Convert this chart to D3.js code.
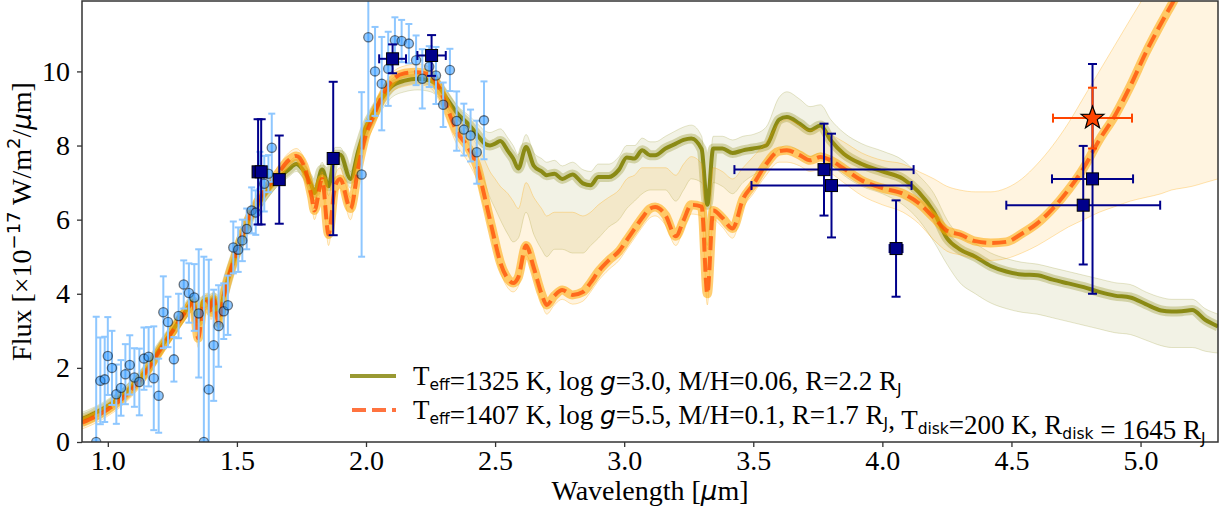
<!DOCTYPE html>
<html><head><meta charset="utf-8">
<script src="https://cdn.jsdelivr.net/npm/d3@7"></script>
<style>body{margin:0;background:#fff} svg{display:block}</style>
</head><body>
<svg id="c" width="1225" height="508"></svg>
<script>
// ---------------- DATA ----------------
const wavelength = [0.90,0.95,1.00,1.05,1.10,1.15,1.20,1.25,1.30,1.33,1.35,1.37,1.39,1.40,1.41,1.43,1.45,1.50,1.55,1.60,1.65,1.70,1.73,1.76,1.79,1.80,1.83,1.855,1.88,1.90,1.94,1.97,2.00,2.03,2.06,2.10,2.15,2.20,2.25,2.28,2.31,2.35,2.40,2.43,2.46,2.48,2.50,2.52,2.55,2.57,2.59,2.62,2.65,2.68,2.70,2.73,2.76,2.80,2.84,2.87,2.90,2.94,2.98,3.01,3.04,3.07,3.10,3.12,3.16,3.20,3.23,3.26,3.30,3.322,3.345,3.38,3.42,3.46,3.50,3.55,3.60,3.63,3.68,3.72,3.76,3.80,3.85,3.92,4.00,4.08,4.14,4.20,4.25,4.30,4.36,4.42,4.48,4.54,4.60,4.66,4.72,4.78,4.84,4.90,4.96,5.02,5.08,5.12,5.16,5.20,5.25,5.30];
const oliveBest = [0.62,0.78,0.97,1.22,1.55,1.95,2.50,3.00,3.52,3.80,3.25,3.80,3.85,3.65,3.90,3.40,4.00,5.15,6.05,6.60,7.05,7.35,7.50,7.30,6.90,6.72,7.35,6.90,7.75,7.75,7.10,7.85,8.50,8.90,9.25,9.60,9.75,9.80,9.75,9.60,9.30,8.90,8.55,8.30,8.05,8.00,8.05,8.12,7.85,7.65,7.38,7.96,7.45,7.30,7.20,7.24,7.10,7.22,6.98,6.93,7.15,7.15,7.35,7.68,7.65,7.87,7.74,7.74,7.92,8.05,8.15,8.19,7.90,6.40,7.92,7.92,7.80,7.87,7.92,8.00,8.70,8.77,8.59,8.41,8.54,8.14,7.78,7.50,7.30,7.10,6.75,6.20,5.50,5.20,5.00,4.75,4.60,4.52,4.50,4.38,4.28,4.18,4.05,3.95,3.90,3.72,3.55,3.52,3.53,3.56,3.30,3.12];
const oliveLow = [0.42,0.58,0.77,1.02,1.35,1.75,2.30,2.80,3.32,3.60,2.95,3.60,3.65,3.45,3.70,3.20,3.80,4.95,5.85,6.40,6.85,7.15,7.30,7.10,6.70,6.50,7.15,6.65,7.50,7.50,6.85,7.60,8.25,8.60,8.95,9.30,9.45,9.50,9.45,9.30,9.00,8.50,8.00,7.60,7.00,6.60,6.30,6.00,5.60,5.40,5.50,6.20,5.60,5.20,5.00,5.20,5.20,5.10,5.10,5.30,5.50,5.80,6.00,6.30,6.50,6.70,6.80,6.80,6.80,6.50,6.80,7.10,7.00,5.30,7.00,6.90,6.70,7.00,7.20,7.40,7.90,8.00,7.85,7.70,7.80,7.50,7.20,6.90,6.70,6.40,6.00,5.40,4.80,4.30,4.00,3.75,3.60,3.50,3.45,3.35,3.25,3.15,3.05,2.95,2.90,2.75,2.60,2.55,2.55,2.55,2.45,2.40];
const oliveHigh = [0.80,0.95,1.15,1.40,1.72,2.12,2.68,3.18,3.70,3.98,3.45,3.98,4.02,3.85,4.08,3.60,4.20,5.35,6.25,6.80,7.25,7.55,7.70,7.50,7.10,6.92,7.55,7.10,7.95,7.95,7.30,8.05,8.70,9.10,9.45,9.80,9.95,10.00,9.95,9.80,9.50,9.10,8.80,8.60,8.40,8.35,8.40,8.45,8.20,8.00,7.75,8.30,7.80,7.65,7.55,7.60,7.45,7.55,7.35,7.30,7.50,7.50,7.70,8.00,8.00,8.20,8.10,8.10,8.25,8.40,8.50,8.55,8.25,6.80,8.25,8.25,8.15,8.25,8.30,8.50,9.30,9.45,9.25,9.05,9.10,8.70,8.35,8.05,7.85,7.60,7.20,6.70,6.00,5.55,5.35,5.10,4.95,4.85,4.80,4.70,4.60,4.50,4.40,4.30,4.25,4.05,3.90,3.85,3.85,3.85,3.60,3.45];
const diskBest = [0.52,0.68,0.88,1.14,1.48,1.90,2.45,2.98,3.50,3.75,2.80,3.70,3.80,3.50,3.85,3.20,3.95,5.15,6.10,6.70,7.15,7.60,7.72,7.45,6.60,6.25,7.10,5.60,6.90,7.10,6.30,7.40,8.30,8.80,9.30,9.75,9.95,9.98,9.90,9.60,9.10,8.40,7.90,7.45,6.60,6.00,5.40,4.85,4.40,4.29,4.45,5.30,4.70,4.00,3.70,3.95,4.10,3.97,4.05,4.30,4.60,4.90,5.15,5.45,5.75,6.05,6.30,6.34,6.12,5.55,5.98,6.40,6.35,4.00,6.25,6.05,5.76,6.55,6.95,7.50,7.85,7.87,7.74,7.60,7.69,7.60,7.38,7.06,6.85,6.70,6.45,6.05,5.70,5.60,5.42,5.37,5.40,5.62,5.90,6.30,6.80,7.40,8.15,8.80,9.60,10.50,11.30,11.80,12.30,12.90,13.50,14.20];
const diskLow = [0.35,0.50,0.70,0.95,1.28,1.70,2.25,2.78,3.30,3.55,2.55,3.50,3.60,3.30,3.65,2.95,3.75,4.95,5.90,6.50,6.95,7.40,7.50,7.20,6.35,6.00,6.85,5.30,6.65,6.85,6.00,7.15,8.05,8.50,9.00,9.45,9.60,9.65,9.55,9.25,8.75,8.05,7.50,7.05,6.25,5.70,5.10,4.60,4.15,4.05,4.20,5.05,4.45,3.75,3.45,3.70,3.85,3.72,3.80,4.05,4.35,4.65,4.90,5.20,5.50,5.80,6.05,6.10,5.85,5.30,5.75,6.15,6.10,3.70,6.00,5.80,5.50,6.30,6.70,7.20,7.55,7.55,7.45,7.30,7.35,7.25,7.00,6.65,6.40,6.20,5.90,5.45,5.15,5.05,4.95,4.90,4.95,5.10,5.30,5.55,5.80,6.00,6.20,6.35,6.50,6.60,6.70,6.80,6.85,6.90,7.00,7.10];
const diskHigh = [0.70,0.85,1.05,1.32,1.66,2.08,2.63,3.16,3.68,3.95,3.10,3.90,4.00,3.72,4.05,3.42,4.15,5.35,6.30,6.90,7.35,7.80,7.92,7.65,6.85,6.50,7.30,5.95,7.20,7.40,6.60,7.70,8.55,9.05,9.50,9.95,10.15,10.20,10.10,9.85,9.40,8.80,8.35,8.00,7.60,7.30,7.10,6.90,6.70,6.50,6.30,7.00,6.60,6.30,6.10,6.20,6.20,6.20,6.10,6.20,6.40,6.60,6.80,7.10,7.20,7.40,7.40,7.40,7.40,7.20,7.50,7.70,7.50,5.20,7.40,7.30,7.10,7.40,7.70,8.10,8.60,8.70,8.55,8.40,8.45,8.30,8.10,7.80,7.60,7.50,7.30,7.10,6.90,6.80,6.75,6.75,6.85,7.10,7.50,8.00,8.60,9.30,10.00,10.70,11.40,12.10,12.90,13.40,13.90,14.50,15.10,15.80];

const specLambda = [0.955,0.971,0.988,1.000,1.016,1.033,1.051,1.068,1.085,1.103,1.122,1.140,1.158,1.178,1.197,1.215,1.233,1.256,1.274,1.294,1.314,1.335,1.352,1.372,1.391,1.410,1.429,1.449,1.465,1.486,1.505,1.521,1.538,1.557,1.573,1.589,1.606,1.622,1.635,1.983,2.009,2.035,2.061,2.086,2.112,2.138,2.166,2.194,2.218,2.245,2.271,2.299,2.325,2.351,2.379,2.405,2.429,2.457];
const specFlux = [0.0,1.65,1.69,2.32,2.0,1.29,1.46,1.83,2.08,1.74,1.62,2.25,2.30,1.72,1.25,3.50,3.24,2.23,3.40,4.25,4.02,3.90,3.47,0.0,1.42,2.61,3.13,3.53,3.69,5.25,5.19,5.44,5.75,6.25,6.19,7.33,6.97,7.24,7.94,7.22,10.92,10.0,9.67,10.07,10.84,10.82,10.75,10.3,9.80,10.13,9.89,9.10,10.04,8.66,8.43,8.27,7.82,8.68];
const specErr = [3.38,1.17,1.15,1.05,1.0,0.8,0.75,0.81,0.8,0.79,0.9,0.84,0.8,1.4,1.0,0.97,0.68,0.6,0.6,0.65,0.8,0.9,1.73,5.0,3.5,1.5,1.1,0.75,0.8,0.7,0.6,0.56,0.55,0.62,0.6,0.5,0.75,0.5,0.92,2.22,2.26,1.2,1.26,1.0,0.62,0.57,0.53,0.67,0.8,0.55,0.77,0.6,0.57,0.8,0.7,0.7,0.85,1.05];

const photLambda = [1.582,1.594,1.664,1.873,2.103,2.254,3.774,3.803,4.053,4.778,4.814];
const photFlux = [7.29,7.29,7.08,7.65,10.34,10.43,7.35,6.92,5.22,6.39,7.10];
const photErrY = [1.42,1.42,1.19,2.07,0.39,0.55,1.24,1.40,1.30,1.60,3.10];
const photErrX = [0,0,0,0,0.052,0.055,0.347,0.31,0.025,0.298,0.157];

const starLambda = [4.814];
const starFlux = [8.74];
const starErrY = [0.82];
const starErrX = [0.153];

const xTicks = [1.0,1.5,2.0,2.5,3.0,3.5,4.0,4.5,5.0];
const yTicks = [0,2,4,6,8,10];

// ---------------- DRAW ----------------
const svg = d3.select("#c");
const L=82, R=1218, T=1, B=442;
const x = d3.scaleLinear().domain([0.9,5.3]).range([L,R]);
const y = d3.scaleLinear().domain([0,11.9]).range([B,T]);
const SERIF = "'Liberation Serif','Times New Roman',serif";
const SANS = "'DejaVu Sans',sans-serif";

svg.append("defs").append("clipPath").attr("id","clip")
  .append("rect").attr("x",L).attr("y",T).attr("width",R-L).attr("height",B-T);

const gp = svg.append("g").attr("clip-path","url(#clip)");
const rows = wavelength.map((w,i)=>({w, ob:oliveBest[i], ol:oliveLow[i], oh:oliveHigh[i], db:diskBest[i], dl:diskLow[i], dh:diskHigh[i]}));
const curve = d3.curveMonotoneX;
const area = (lo,hi)=>d3.area().x(d=>x(d.w)).y0(d=>y(d[lo])).y1(d=>y(d[hi])).curve(curve);
const line = (k)=>d3.line().x(d=>x(d.w)).y(d=>y(d[k])).curve(curve);

// olive ensemble
gp.append("path").datum(rows).attr("d",area("ol","oh")).attr("fill","#808000").attr("opacity",0.1);
["ol","oh"].forEach(k=>gp.append("path").datum(rows).attr("d",line(k)).attr("fill","none").attr("stroke","#808000").attr("stroke-width",1).attr("opacity",0.2));
gp.append("path").datum(rows).attr("d",line("ob")).attr("fill","none").attr("stroke","#808000").attr("stroke-width",10).attr("opacity",0.28).attr("stroke-linejoin","round");
gp.append("path").datum(rows).attr("d",line("ob")).attr("fill","none").attr("stroke","#808000").attr("stroke-width",4).attr("opacity",0.88).attr("stroke-linejoin","round");
// disk ensemble
gp.append("path").datum(rows).attr("d",area("dl","dh")).attr("fill","#ffa500").attr("opacity",0.12);
["dl","dh"].forEach(k=>gp.append("path").datum(rows).attr("d",line(k)).attr("fill","none").attr("stroke","#ffa500").attr("stroke-width",1).attr("opacity",0.3));
gp.append("path").datum(rows).attr("d",line("db")).attr("fill","none").attr("stroke","#ffa500").attr("stroke-width",9).attr("opacity",0.55).attr("stroke-linejoin","round");
gp.append("path").datum(rows).attr("d",line("db")).attr("fill","none").attr("stroke","#ff4500").attr("stroke-width",4).attr("opacity",0.72).attr("stroke-dasharray","14,6");

// spectroscopy error bars
const spec = specLambda.map((w,i)=>({w,f:specFlux[i],e:specErr[i]}));
const gs = gp.append("g");
const SPECBAR = "#8ec7ff";
spec.forEach(d=>{
  gs.append("line").attr("x1",x(d.w)).attr("x2",x(d.w)).attr("y1",y(d.f-d.e)).attr("y2",y(d.f+d.e)).attr("stroke",SPECBAR).attr("stroke-width",2);
  [d.f-d.e,d.f+d.e].forEach(v=>gs.append("line").attr("x1",x(d.w)-3.5).attr("x2",x(d.w)+3.5).attr("y1",y(v)).attr("y2",y(v)).attr("stroke",SPECBAR).attr("stroke-width",2));
});
// spectroscopy circles
spec.forEach(d=>{
  gs.append("circle").attr("cx",x(d.w)).attr("cy",y(d.f)).attr("r",4.6).attr("fill","#1e90ff").attr("fill-opacity",0.5).attr("stroke","#000").attr("stroke-opacity",0.5).attr("stroke-width",1.3);
});

// photometry squares
const phot = photLambda.map((w,i)=>({w,f:photFlux[i],ey:photErrY[i],ex:photErrX[i]}));
const gph = gp.append("g");
const NAVY="#00008b";
phot.forEach(d=>{
  gph.append("line").attr("x1",x(d.w)).attr("x2",x(d.w)).attr("y1",y(d.f-d.ey)).attr("y2",y(d.f+d.ey)).attr("stroke",NAVY).attr("stroke-width",2);
  [d.f-d.ey,d.f+d.ey].forEach(v=>gph.append("line").attr("x1",x(d.w)-4.5).attr("x2",x(d.w)+4.5).attr("y1",y(v)).attr("y2",y(v)).attr("stroke",NAVY).attr("stroke-width",2));
  if(d.ex>0){
    gph.append("line").attr("x1",x(d.w-d.ex)).attr("x2",x(d.w+d.ex)).attr("y1",y(d.f)).attr("y2",y(d.f)).attr("stroke",NAVY).attr("stroke-width",2);
    [d.w-d.ex,d.w+d.ex].forEach(v=>gph.append("line").attr("x1",x(v)).attr("x2",x(v)).attr("y1",y(d.f)-4.5).attr("y2",y(d.f)+4.5).attr("stroke",NAVY).attr("stroke-width",2));
  }
});
phot.forEach(d=>{
  gph.append("rect").attr("x",x(d.w)-6).attr("y",y(d.f)-6).attr("width",12).attr("height",12).attr("fill",NAVY).attr("stroke","#000").attr("stroke-width",1);
});

// star
const star = starLambda.map((w,i)=>({w,f:starFlux[i],ey:starErrY[i],ex:starErrX[i]}));
const STAR="#ff4500";
star.forEach(d=>{
  gp.append("line").attr("x1",x(d.w)).attr("x2",x(d.w)).attr("y1",y(d.f-d.ey)).attr("y2",y(d.f+d.ey)).attr("stroke",STAR).attr("stroke-width",2);
  [d.f-d.ey,d.f+d.ey].forEach(v=>gp.append("line").attr("x1",x(d.w)-4.5).attr("x2",x(d.w)+4.5).attr("y1",y(v)).attr("y2",y(v)).attr("stroke",STAR).attr("stroke-width",2));
  gp.append("line").attr("x1",x(d.w-d.ex)).attr("x2",x(d.w+d.ex)).attr("y1",y(d.f)).attr("y2",y(d.f)).attr("stroke",STAR).attr("stroke-width",2);
  [d.w-d.ex,d.w+d.ex].forEach(v=>gp.append("line").attr("x1",x(v)).attr("x2",x(v)).attr("y1",y(d.f)-4.5).attr("y2",y(d.f)+4.5).attr("stroke",STAR).attr("stroke-width",2));
  const ro=12, ri=5;
  const pts=[];
  for(let k=0;k<10;k++){const a=-Math.PI/2+k*Math.PI/5; const r=k%2?ri:ro; pts.push([x(d.w)+r*Math.cos(a), y(d.f)+r*Math.sin(a)]);}
  gp.append("path").attr("d","M"+pts.map(p=>p.join(",")).join("L")+"Z").attr("fill",STAR).attr("stroke","#000").attr("stroke-width",1.2);
});

// axes
const xAxis = d3.axisBottom(x).tickValues(xTicks).tickFormat(d=>d.toFixed(1)).tickSize(5).tickSizeOuter(0).tickPadding(3);
const yAxis = d3.axisLeft(y).tickValues(yTicks).tickFormat(d3.format("d")).tickSize(5).tickSizeOuter(0).tickPadding(7);
const gx = svg.append("g").attr("transform",`translate(0,${B})`).call(xAxis);
const gy = svg.append("g").attr("transform",`translate(${L},0)`).call(yAxis);
[gx,gy].forEach(g=>{
  g.select(".domain").remove();
  g.selectAll("line").attr("stroke","#333").attr("stroke-width",1.3);
  g.selectAll("text").attr("font-family",SERIF).attr("font-size",28).attr("fill","#000");
});
svg.append("rect").attr("x",L).attr("y",T).attr("width",R-L).attr("height",B-T).attr("fill","none").attr("stroke","#333").attr("stroke-width",1.5);

// axis labels
const xl = svg.append("text").attr("x",(L+R)/2).attr("y",500).attr("text-anchor","middle").attr("font-family",SERIF).attr("font-size",28);
xl.append("tspan").text("Wavelength [");
xl.append("tspan").attr("font-family",SANS).attr("font-style","italic").attr("font-size",26).text("μ");
xl.append("tspan").text("m]");

const yl = svg.append("text").attr("transform",`translate(31,${(T+B)/2}) rotate(-90)`).attr("text-anchor","middle").attr("font-family",SERIF).attr("font-size",28);
yl.append("tspan").text("Flux [×10");
yl.append("tspan").attr("font-family",SANS).attr("font-size",18).attr("dy",-11).text("−17");
yl.append("tspan").attr("dy",11).text(" W/m");
yl.append("tspan").attr("font-family",SANS).attr("font-size",18).attr("dy",-11).text("2");
yl.append("tspan").attr("dy",11).text("/");
yl.append("tspan").attr("font-family",SANS).attr("font-style","italic").attr("font-size",26).text("μ");
yl.append("tspan").text("m]");

// legend
const lg = svg.append("g");
lg.append("line").attr("x1",350).attr("x2",396).attr("y1",376).attr("y2",376).attr("stroke","#808000").attr("stroke-width",4).attr("opacity",0.8);
lg.append("line").attr("x1",352).attr("x2",396).attr("y1",410).attr("y2",410).attr("stroke","#ff4500").attr("stroke-width",4).attr("opacity",0.75).attr("stroke-dasharray","14,6");
function sub(t,s){ t.append("tspan").attr("font-family",SANS).attr("font-size",15.5).attr("dy",5).text(s); t.append("tspan").attr("dy",-5).text(""); }
function ital(t,s){ t.append("tspan").attr("font-family",SANS).attr("font-style","italic").attr("font-size",25).text(s); }
function txt(t,s){ t.append("tspan").text(s); }
const t1 = lg.append("text").attr("x",413).attr("y",385).attr("font-family",SERIF).attr("font-size",27);
txt(t1,"T"); sub(t1,"eff"); txt(t1,"=1325 K, log "); ital(t1,"g"); txt(t1,"=3.0, M/H=0.06, R=2.2 R"); sub(t1,"J");
const t2 = lg.append("text").attr("x",413).attr("y",419).attr("font-family",SERIF).attr("font-size",27);
txt(t2,"T"); sub(t2,"eff"); txt(t2,"=1407 K, log "); ital(t2,"g"); txt(t2,"=5.5, M/H=0.1, R=1.7 R"); sub(t2,"J");
txt(t2,", T"); sub(t2,"disk"); txt(t2,"=200 K, R"); sub(t2,"disk"); txt(t2," = 1645 R"); sub(t2,"J");
</script>
</body></html>
